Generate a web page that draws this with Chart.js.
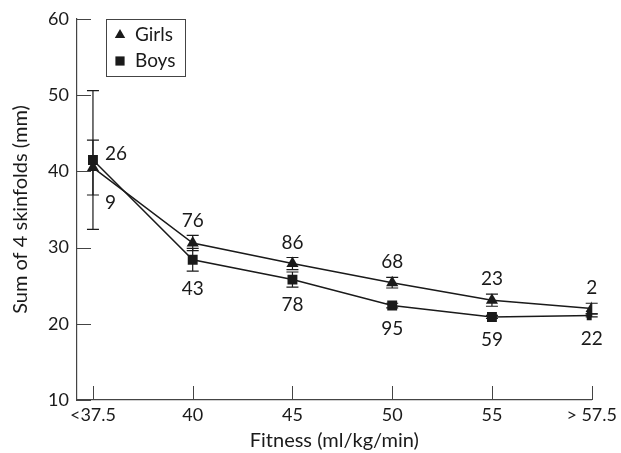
<!DOCTYPE html>
<html>
<head>
<meta charset="utf-8">
<script src="https://cdn.jsdelivr.net/npm/chart.js@4"></script>
<style>
  html, body { margin: 0; padding: 0; background: #fff; }
  #wrap { width: 621px; height: 453px; }
</style>
</head>
<body>
<div id="wrap"><canvas id="grafico"></canvas></div>
<script>
const xLabels = ['<37.5', '40', '45', '50', '55', '> 57.5']
const yTicks = [10, 20, 30, 40, 50, 60]

const girls = [40.5, 30.6, 27.9, 25.4, 23.1, 22.0]
const girlsErr = [3.6, 1.0, 0.8, 0.7, 0.8, 0.7]
const girlsN = [26, 76, 86, 68, 23, 2]

const boys = [41.5, 28.4, 25.8, 22.4, 20.9, 21.1]
const boysErr = [9.1, 1.5, 1.0, 0.3, 0.2, 0.2]
const boysN = [9, 43, 78, 95, 59, 22]

const FONT = 'Lato, "Noto Sans", sans-serif'
const INK = '#1a1a1a'
const AXIS = '#444'

const toPoints = (arr) => arr.map((v, i) => ({ x: i, y: v }))

// error bars, n labels, inward ticks and the boxed legend
const extras = {
  id: 'extras',
  beforeDatasetsDraw(chart) {
    const { ctx, scales: { x, y } } = chart
    ctx.save()
    ctx.strokeStyle = INK
    ctx.lineWidth = 1.2
    const bars = [[girls, girlsErr], [boys, boysErr]]
    bars.forEach(([vals, errs]) => {
      vals.forEach((v, i) => {
        const px = x.getPixelForValue(i)
        const top = y.getPixelForValue(v + errs[i])
        const bot = y.getPixelForValue(v - errs[i])
        const cap = 6
        ctx.beginPath()
        ctx.moveTo(px, top); ctx.lineTo(px, bot)
        ctx.moveTo(px - cap, top); ctx.lineTo(px + cap, top)
        ctx.moveTo(px - cap, bot); ctx.lineTo(px + cap, bot)
        ctx.stroke()
      })
    })
    ctx.restore()
  },
  afterDraw(chart) {
    const { ctx, chartArea: area, scales: { x, y } } = chart
    ctx.save()

    // inward tick marks
    ctx.strokeStyle = AXIS
    ctx.lineWidth = 1
    ctx.beginPath()
    x.ticks.forEach((t) => {
      const px = Math.round(x.getPixelForValue(t.value)) + 0.5
      ctx.moveTo(px, area.bottom); ctx.lineTo(px, area.bottom - 14)
    })
    y.ticks.forEach((t) => {
      const py = Math.round(y.getPixelForValue(t.value)) + 0.5
      ctx.moveTo(area.left, py); ctx.lineTo(area.left + 14, py)
    })
    ctx.stroke()

    // sample sizes
    ctx.fillStyle = INK
    ctx.font = '19px ' + FONT
    ctx.textBaseline = 'middle'
    girls.forEach((v, i) => {
      const px = x.getPixelForValue(i)
      const py = y.getPixelForValue(v)
      if (i === 0) {
        ctx.textAlign = 'left'
        ctx.fillText(girlsN[i], px + 12, py - 14)
      } else {
        const top = Math.min(y.getPixelForValue(v + girlsErr[i]), py - 5)
        ctx.textAlign = 'center'
        ctx.fillText(girlsN[i], px, top - 15)
      }
    })
    boys.forEach((v, i) => {
      const px = x.getPixelForValue(i)
      const py = y.getPixelForValue(v)
      if (i === 0) {
        ctx.textAlign = 'left'
        ctx.fillText(boysN[i], px + 12, py + 43)
      } else {
        const bot = Math.max(y.getPixelForValue(v - boysErr[i]), py + 5)
        ctx.textAlign = 'center'
        ctx.fillText(boysN[i], px, bot + 18)
      }
    })

    // legend box
    const lx = area.left + 29
    const ly = area.top
    ctx.strokeStyle = AXIS
    ctx.lineWidth = 1
    ctx.strokeRect(lx + 0.5, ly + 0.5, 79, 57)
    chart.data.datasets.forEach((ds, i) => {
      const cy = ly + 16 + i * 26
      ctx.fillStyle = INK
      Chart.helpers.drawPoint(ctx, { pointStyle: ds.pointStyle, radius: ds.pointStyle === 'rect' ? 6.5 : 6, borderWidth: 0 }, lx + 14, cy)
      ctx.textAlign = 'left'
      ctx.font = '19px ' + FONT
      ctx.fillText(ds.label, lx + 29, cy)
    })
    ctx.restore()
  },
}

new Chart(document.getElementById('grafico'), {
  type: 'line',
  data: {
    datasets: [
      {
        label: 'Girls',
        data: toPoints(girls),
        borderColor: INK,
        backgroundColor: INK,
        borderWidth: 1.5,
        pointStyle: 'triangle',
        pointRadius: 7,
        pointBorderWidth: 0,
        tension: 0,
      },
      {
        label: 'Boys',
        data: toPoints(boys),
        borderColor: INK,
        backgroundColor: INK,
        borderWidth: 1.5,
        pointStyle: 'rect',
        pointRadius: 7,
        pointBorderWidth: 0,
        tension: 0,
      },
    ],
  },
  options: {
    responsive: true,
    maintainAspectRatio: false,
    animation: false,
    layout: { padding: { top: 19, right: 29, left: 0, bottom: 0 } },
    plugins: { legend: { display: false }, tooltip: { enabled: false } },
    scales: {
      x: {
        type: 'linear',
        min: -0.16,
        max: 5,
        grid: { display: false, drawTicks: false },
        border: { display: true, color: AXIS, width: 1.2 },
        ticks: {
          stepSize: 1,
          includeBounds: false,
          autoSkip: false,
          maxRotation: 0,
          padding: 4,
          color: INK,
          font: { family: FONT, size: 18 },
          callback: (v) => xLabels[v] ?? '',
        },
        title: {
          display: true,
          text: 'Fitness (ml/kg/min)',
          color: INK,
          font: { family: FONT, size: 20 },
          padding: { top: 0, bottom: 0 },
        },
        afterFit: (s) => { s.height = 53 },
      },
      y: {
        min: 10,
        max: 60,
        grid: { display: false, drawTicks: false },
        border: { display: true, color: AXIS, width: 1.2 },
        afterBuildTicks: (s) => { s.ticks = yTicks.map((v) => ({ value: v })) },
        ticks: {
          padding: 8,
          color: INK,
          font: { family: FONT, size: 18 },
        },
        title: {
          display: true,
          text: 'Sum of 4 skinfolds (mm)',
          color: INK,
          font: { family: FONT, size: 20 },
          padding: { top: 9, bottom: 0 },
        },
        afterFit: (s) => { s.width = 77 },
      },
    },
  },
  plugins: [extras],
})
</script>
</body>
</html>
